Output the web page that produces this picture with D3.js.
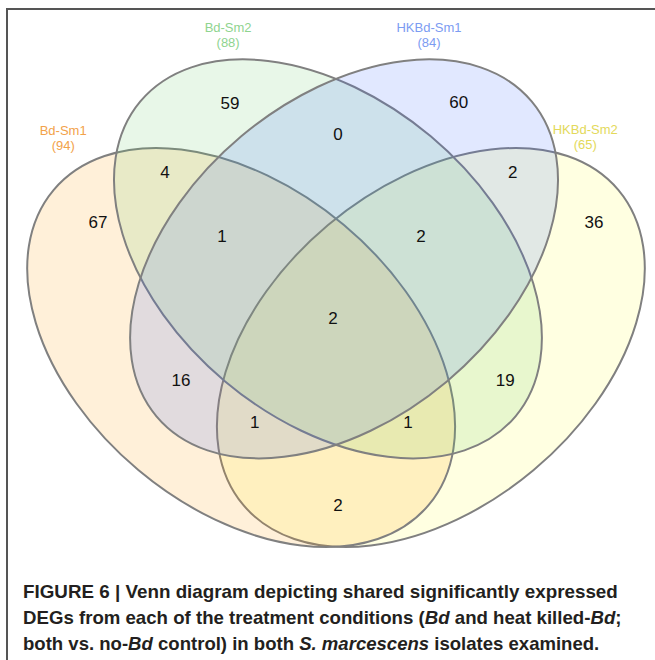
<!DOCTYPE html>
<html>
<head>
<meta charset="utf-8">
<script src="https://cdn.jsdelivr.net/npm/d3@7"></script>
<style>
  body { margin: 0; background: #fff; }
  svg { display: block; }
</style>
</head>
<body>
<svg id="chart" width="655" height="660"></svg>
<script>
// ---- Data -------------------------------------------------------------
// The four treatment sets
const setNames = ["Bd-Sm1", "Bd-Sm2", "HKBd-Sm1", "HKBd-Sm2"];

// Each region is coded by the indices of the sets it belongs to
const regionCodes  = ["0", "1", "2", "3", "01", "12", "23", "02", "13", "03", "012", "123", "023", "013", "0123"];
const regionCounts = [67, 59, 60, 36, 4, 0, 2, 16, 19, 2, 1, 2, 1, 1, 2];

// ---- Styling ----------------------------------------------------------
const fillColors  = ["#ff9900", "#66cc66", "#3366ff", "#ffff33"];
const labelColors = ["#f2a24a", "#8fd48f", "#7c9cf2", "#e3d95a"];
// Painting order of the ellipses (translucent fills stack in this order)
const drawOrder = [3, 0, 1, 2];

// ---- Layout (diagram units: 0..1 across the drawing width) -------------
const ellipseLayout = [
  { cx: 0.347, cy: 0.496, rx: 0.395, ry: 0.258, angle: 40 },
  { cx: 0.487, cy: 0.353, rx: 0.395, ry: 0.258, angle: 40 },
  { cx: 0.513, cy: 0.353, rx: 0.395, ry: 0.258, angle: -40 },
  { cx: 0.653, cy: 0.496, rx: 0.395, ry: 0.258, angle: -40 }
];
// Anchor of each region's count, same order as regionCodes
const regionAnchors = [
  [0.116, 0.294], [0.329, 0.102], [0.698, 0.100], [0.916, 0.294],
  [0.224, 0.213], [0.503, 0.152], [0.785, 0.213], [0.250, 0.548],
  [0.773, 0.548], [0.503, 0.750], [0.316, 0.316], [0.637, 0.316],
  [0.369, 0.616], [0.616, 0.616], [0.495, 0.448]
];
// Anchor of each set's title
const setLabelAnchors = [[0.060, 0.153], [0.326, -0.013], [0.650, -0.013], [0.902, 0.151]];

// Set totals follow from the region counts
const setTotals = setNames.map((_, i) =>
  d3.sum(regionCodes.map((c, k) => c.includes(String(i)) ? regionCounts[k] : 0))
);

const svg = d3.select("#chart");
const x = d3.scaleLinear().domain([0, 1]).range([26, 646]);
const y = d3.scaleLinear().domain([0, 1]).range([40, 660]);
const len = v => x(v) - x(0);

// Frame lines along the top and left edges
svg.append("path")
  .attr("d", "M7,660V9H655")
  .attr("fill", "none")
  .attr("stroke", "#555")
  .attr("stroke-width", 2);

// Ellipses
svg.append("g")
  .selectAll("ellipse")
  .data(drawOrder.map(i => ({ ...ellipseLayout[i], set: i })))
  .join("ellipse")
  .attr("cx", d => x(d.cx))
  .attr("cy", d => y(d.cy))
  .attr("rx", d => len(d.rx))
  .attr("ry", d => len(d.ry))
  .attr("transform", d => `rotate(${d.angle},${x(d.cx)},${y(d.cy)})`)
  .attr("fill", d => fillColors[d.set])
  .attr("fill-opacity", 0.15)
  .attr("stroke", "#808080")
  .attr("stroke-width", 2);

// Region counts
svg.append("g")
  .selectAll("text")
  .data(regionCounts)
  .join("text")
  .attr("x", (d, i) => x(regionAnchors[i][0]))
  .attr("y", (d, i) => y(regionAnchors[i][1]))
  .attr("dy", "0.35em")
  .attr("text-anchor", "middle")
  .attr("font-family", "'Liberation Sans', Arial, sans-serif")
  .attr("font-size", 17)
  .attr("fill", "#111")
  .text(d => d);

// Set titles with totals
const titles = svg.append("g")
  .selectAll("text")
  .data(setNames)
  .join("text")
  .attr("text-anchor", "middle")
  .attr("font-family", "'Liberation Sans', Arial, sans-serif")
  .attr("font-size", 13)
  .attr("fill", (d, i) => labelColors[i]);
titles.append("tspan")
  .attr("x", (d, i) => x(setLabelAnchors[i][0]))
  .attr("y", (d, i) => y(setLabelAnchors[i][1]))
  .text(d => d);
titles.append("tspan")
  .attr("x", (d, i) => x(setLabelAnchors[i][0]))
  .attr("dy", 15)
  .text((d, i) => `(${setTotals[i]})`);

// Figure caption
const captionLines = [
  { parts: [["FIGURE 6 | Venn diagram depicting shared significantly expressed", false]], width: 595 },
  { parts: [["DEGs from each of the treatment conditions (", false], ["Bd", true],
            [" and heat killed-", false], ["Bd", true], [";", false]], width: 599 },
  { parts: [["both vs. no-", false], ["Bd", true], [" control) in both ", false],
            ["S. marcescens", true], [" isolates examined.", false]], width: 577 }
];
captionLines.forEach((line, i) => {
  const lg = svg.append("g");
  const t = lg.append("text")
    .attr("x", 0).attr("y", 0)
    .attr("font-family", "'Liberation Sans', Arial, sans-serif")
    .attr("font-size", 18)
    .attr("font-weight", "bold")
    .attr("fill", "#231f20");
  line.parts.forEach(([s, it]) => {
    t.append("tspan").attr("font-style", it ? "italic" : "normal").text(s);
  });
  const w = t.node().getComputedTextLength();
  lg.attr("transform", `translate(23,${598 + i * 26}) scale(${line.width / w},1)`);
});
</script>
</body>
</html>
